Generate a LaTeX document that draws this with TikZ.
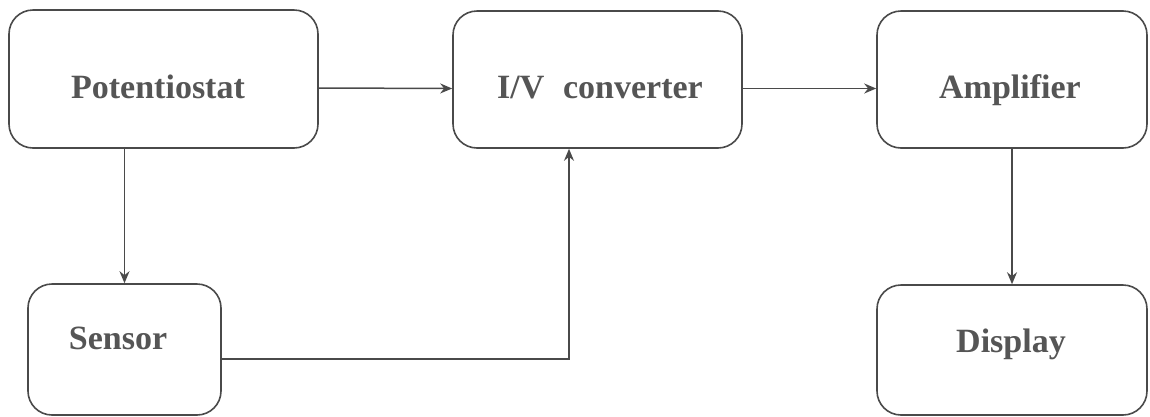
\documentclass[tikz,border=0pt]{standalone}
\usepackage{fontspec}
\setmainfont{Liberation Serif}
\usetikzlibrary{arrows.meta}
\definecolor{linegray}{HTML}{4A4A4A}
\definecolor{textgray}{HTML}{555555}
\begin{document}
\begin{tikzpicture}[x=1pt,y=-1pt,
  blockbox/.style={draw=linegray,line width=1.6pt,rounded corners=24pt,inner sep=0pt},
  blocktext/.style={anchor=base,text=textgray,font=\fontsize{34}{40}\selectfont\bfseries,inner sep=0pt},
  conn/.style={draw=linegray,line width=1.5pt,-{Stealth[length=12pt,width=10pt]}}]
\fill[white] (0,0) rectangle (1150,416);
\useasboundingbox (0,0) rectangle (1150,416);
% boxes
\node[blockbox,minimum width=309pt,minimum height=138pt] (P) at (163.5,79) {};
\node[blockbox,minimum width=289pt,minimum height=137pt] (IV) at (597.5,79.5) {};
\node[blockbox,minimum width=270pt,minimum height=137pt] (A) at (1012,79.5) {};
\node[blockbox,minimum width=193pt,minimum height=131pt] (S) at (124.5,349.5) {};
\node[blockbox,minimum width=270pt,minimum height=130pt] (D) at (1012,350) {};
% texts
\node[blocktext] (tP) at (158,98) {Potentiostat};
\node[blocktext] (tIV) at (600,98) {I/V\hspace{0.3em} converter};
\node[blocktext] (tA) at (1010,98) {Amplifier};
\node[blocktext] (tS) at (118,349) {Sensor};
\node[blocktext] (tD) at (1011,352) {Display};
% connectors
\draw[conn] ([yshift=-9pt]P.east) -- ([yshift=-9pt]IV.west);
\draw[conn] ([yshift=-9pt]IV.east) -- ([yshift=-9pt]A.west);
\draw[conn] (S.north |- P.south) -- (S.north);
\draw[conn] ([yshift=-9.5pt]S.east) -| ([xshift=-28.5pt]IV.south);
\draw[conn] (D.north |- A.south) -- (D.north);
\end{tikzpicture}
\end{document}
